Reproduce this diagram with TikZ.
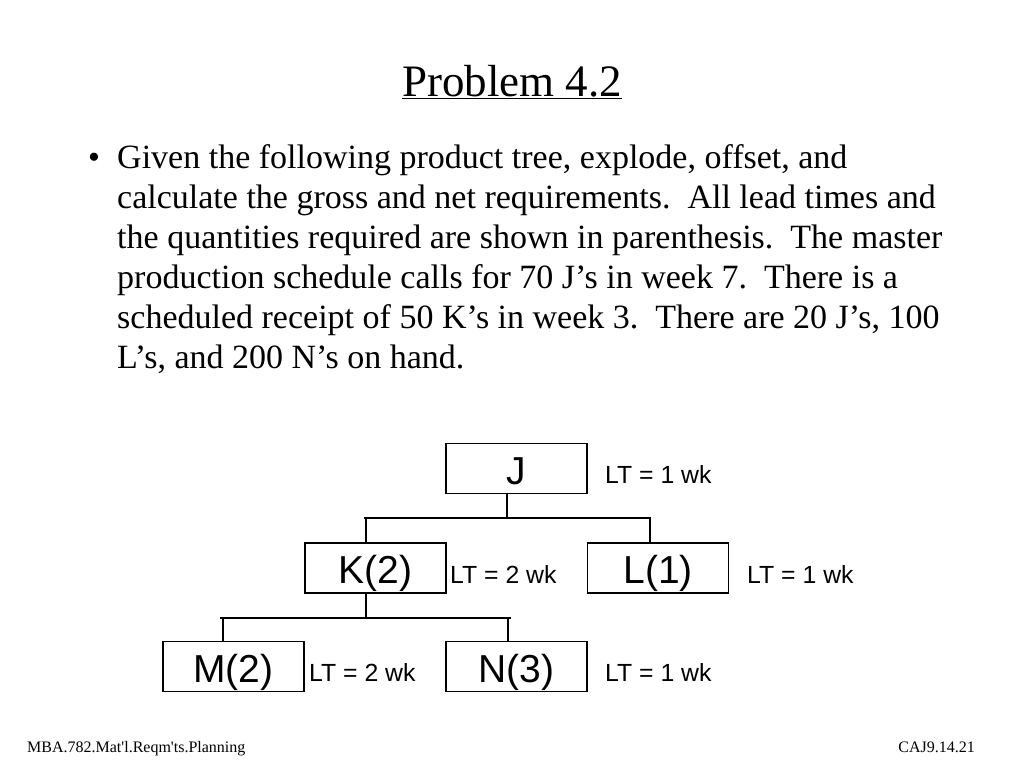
\documentclass[tikz,border=0pt]{standalone}
\usepackage{fontspec}
\setmainfont{Liberation Serif}
\newfontfamily\arialf{Liberation Sans}
\begin{document}
\begin{tikzpicture}[x=1pt,y=-1pt,
  item/.style={draw,line width=1.8pt,minimum width=141pt,minimum height=50pt,inner sep=0pt,text height=31pt,text depth=0pt,font=\arialf\fontsize{39}{40}\selectfont},
  ltlab/.style={anchor=base west,inner sep=0pt,font=\arialf\fontsize{24.8}{26}\selectfont},
  link/.style={line width=1.6pt},
  bodyline/.style={anchor=base west,inner sep=0pt,font=\fontsize{34}{40}\selectfont},
  foot/.style={inner sep=0pt,font=\fontsize{16}{18}\selectfont}]
\useasboundingbox[fill=white] (0,0) rectangle (1024,768);
% title
\node[anchor=base,inner sep=0pt,font=\fontsize{45}{48}\selectfont] (title) at (512,96) {\underline{Problem 4.2}};
% body
\node[bodyline] (bul) at (88,168) {•};
\node[bodyline] (l1) at (117,168) {Given the following product tree, explode, offset, and};
\node[bodyline] (l2) at (117,208) {calculate the gross and net requirements.\ \ All lead times and};
\node[bodyline] (l3) at (117,248) {the quantities required are shown in parenthesis.\ \ The master};
\node[bodyline] (l4) at (117,288) {production schedule calls for 70 J’s in week 7.\ \ There is a};
\node[bodyline] (l5) at (117,328) {scheduled receipt of 50 K’s in week 3.\ \ There are 20 J’s, 100};
\node[bodyline] (l6) at (117,368) {L’s, and 200 N’s on hand.};
% tree
\node[item] (J) at (516.5,468.5) {J};
\node[item] (K) at (375.5,568) {K(2)};
\node[item] (L) at (658,568) {L(1)};
\node[item] (M) at (233.5,666.5) {M(2)};
\node[item] (N) at (516.5,666.5) {N(3)};
\node[ltlab] (ltJ) at (605,483) {LT = 1 wk};
\node[ltlab] (ltK) at (450,583) {LT = 2 wk};
\node[ltlab] (ltL) at (747,583) {LT = 1 wk};
\node[ltlab] (ltM) at (309,681) {LT = 2 wk};
\node[ltlab] (ltN) at (605,681) {LT = 1 wk};
\coordinate (b1) at (507,518);
\coordinate (b2) at (366,618);
\draw[link] (J.south -| b1) -- (b1);
\draw[link] (364,518) coordinate (b1l) -- (651,518) coordinate (b1r);
\draw[link] (K.north -| 366,0) -- (366,518);
\draw[link] (L.north -| 650,0) -- (650,518);
\draw[link] (K.south -| b2) -- (b2);
\draw[link] (220,618) coordinate (b2l) -- (511,618) coordinate (b2r);
\draw[link] (M.north -| 223,0) -- (223,618);
\draw[link] (N.north -| 508,0) -- (508,618);
% footer
\node[foot,anchor=base west] (fl) at (27,752) {MBA.782.Mat\textquotesingle l.Reqm\textquotesingle ts.Planning};
\node[foot,anchor=base east] (fr) at (975,752) {CAJ9.14.21};
\end{tikzpicture}
\end{document}
